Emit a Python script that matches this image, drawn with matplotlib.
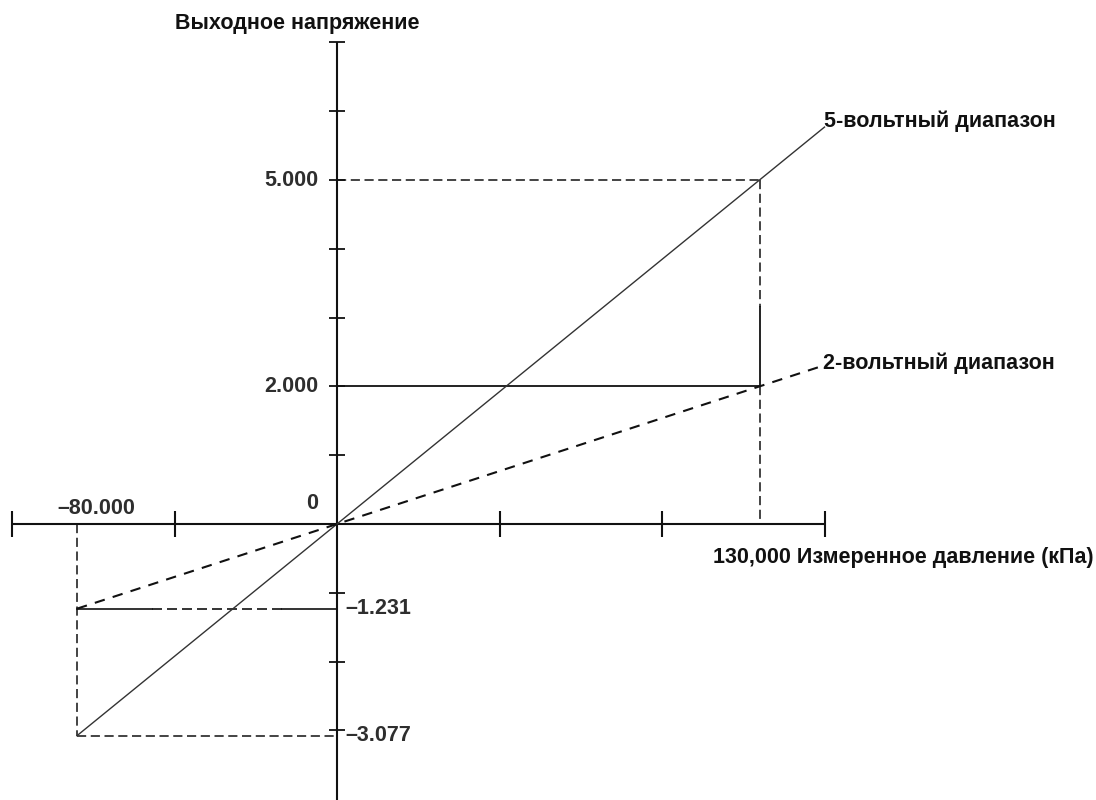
import matplotlib
matplotlib.use("Agg")
import matplotlib.pyplot as plt

plt.rcParams["font.family"] = ["Liberation Sans", "DejaVu Sans"]

# data: pressure (kPa) -> output voltage
p_min, p_max = -80, 130
x_range = [-80, 150]
v5_span = 5.0   # 5-volt range at p_max
v2_span = 2.0   # 2-volt range at p_max
x_ticks = [-100, -50, 50, 100, 150]
y_ticks = [-3, -2, -1, 1, 2, 3, 4, 5, 6, 7]
x_axis = [-100, 150]
y_axis = [-4.05, 7]

v5 = [x * v5_span / p_max for x in x_range]
v2 = [x * v2_span / p_max for x in x_range]
v5_low = p_min * v5_span / p_max    # -3.077
v2_low = p_min * v2_span / p_max    # -1.231

fig = plt.figure(figsize=(10.96, 8), dpi=100)
ax = fig.add_axes([0, 0, 1, 1])
ax.set_xlim(-337 / 3.25, (1096 - 337) / 3.25)
ax.set_ylim((524 - 800) / 68.8, 524 / 68.8)
ax.axis("off")

k = "#111111"
# axes
ax.plot(x_axis, [0, 0], color=k, lw=1.5, solid_capstyle="butt")
ax.plot([0, 0], y_axis, color=k, lw=1.5, solid_capstyle="butt")
ax.plot(x_ticks, [0] * len(x_ticks), ls="none", marker="|", ms=19, mew=1.5, color=k)
ax.plot([0] * len(y_ticks), y_ticks, ls="none", marker="_", ms=11, mew=1.3, color=k)

# guide lines
dash = (0, (6, 3))
ax.plot([0, p_max], [v5_span, v5_span], color=k, lw=1.1, ls=dash)
ax.plot([p_max, p_max], [v5_span, 3.15], color=k, lw=1.1, ls=dash)
ax.plot([p_max, p_max], [3.15, v2_span], color=k, lw=1.3)
ax.plot([p_max, p_max], [v2_span, 0], color=k, lw=1.1, ls=dash)
ax.plot([0, p_max], [v2_span, v2_span], color=k, lw=1.3)

ax.plot([p_min, -57], [v2_low, v2_low], color=k, lw=1.2)
ax.plot([-57, -17], [v2_low, v2_low], color=k, lw=1.2, ls=dash)
ax.plot([-17, 0], [v2_low, v2_low], color=k, lw=1.2)
ax.plot([p_min, p_min], [0, v5_low], color=k, lw=1.1, ls=dash)
ax.plot([p_min, 0], [v5_low, v5_low], color=k, lw=1.1, ls=dash)

# range lines
ax.plot(x_range, v5, color="#333333", lw=1.0)
ax.plot(x_range, v2, color=k, lw=1.5, ls=(0, (5, 4)))

fs = 15.5
tick_c = "#2e2e2e"
tick_kw = dict(fontsize=fs, color=tick_c, fontweight="bold")
ax.text(-5.8, v5_span, "5.000", ha="right", va="center", **tick_kw)
ax.text(-5.8, v2_span, "2.000", ha="right", va="center", **tick_kw)
ax.text(-7.7, 0.3, "0", ha="center", va="center", **tick_kw)
ax.text(-74, 0.23, "\u201380.000", ha="center", va="center", **tick_kw)
ax.text(2.5, v2_low, "\u20131.231", ha="left", va="center", **tick_kw)
ax.text(2.5, v5_low, "\u20133.077", ha="left", va="center", **tick_kw)

lab_kw = dict(fontsize=15.5, fontweight="bold", color=k)
ax.text(-12.3, 7.28, "Выходное напряжение", ha="center", va="center", **lab_kw)
ax.text(115.7, -0.49, "130,000 Измеренное давление (кПа)", ha="left", va="center", **lab_kw)
ax.text(150, 5.86, "5-вольтный диапазон", ha="left", va="center", **lab_kw)
ax.text(149.5, 2.34, "2-вольтный диапазон", ha="left", va="center", **lab_kw)

fig.savefig("out.png", dpi=100, facecolor="white")
